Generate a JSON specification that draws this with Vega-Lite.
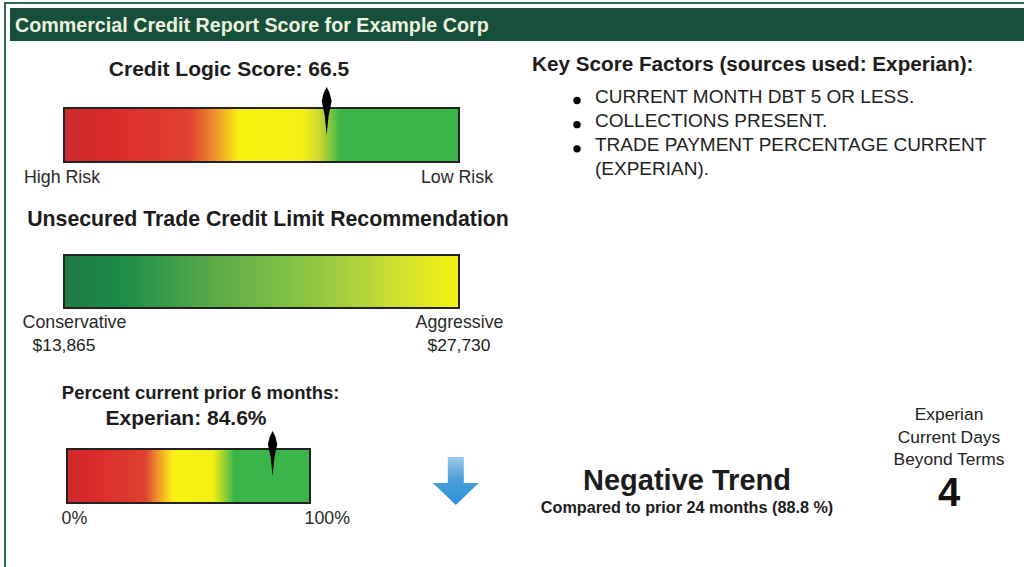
{
"$schema":"https://vega.github.io/schema/vega-lite/v6.json",
"padding":0,
"background":"white",
"spacing":0,
"config":{"view":{"stroke":null},"font":"Liberation Sans","title":{"font":"Liberation Sans","fontWeight":"bold","color":"#1c1c1c"},"text":{"font":"Liberation Sans","color":"#222222"},"axis":{"labelFont":"Liberation Sans","labelColor":"#2a2a2a"}},
"hconcat":[
{"width":10,"height":567,"data":{"values":[{"part":"frame"}]},
 "resolve":{"scale":{"x":"independent","y":"independent"}},
 "layer":[
  {"mark":{"type":"rect","color":"#2c6b52"},"encoding":{"x":{"datum":0,"type":"quantitative","axis":null,"scale":{"domain":[0,1],"range":[4,6]}},"x2":{"datum":1},"y":{"datum":0,"type":"quantitative","axis":null,"scale":{"domain":[0,1],"range":[567,2]}},"y2":{"datum":1}}},
  {"mark":{"type":"rect","color":"#2c6b52"},"encoding":{"x":{"datum":0,"type":"quantitative","axis":null,"scale":{"domain":[0,1],"range":[4,10]}},"x2":{"datum":1},"y":{"datum":0,"type":"quantitative","axis":null,"scale":{"domain":[0,1],"range":[4,2]}},"y2":{"datum":1}}}
 ]},
{"spacing":0,"vconcat":[
 {"width":1014,"height":42,"data":{"values":[{"heading":"Commercial Credit Report Score for Example Corp"}]},
  "resolve":{"scale":{"x":"independent","y":"independent"}},
  "layer":[
   {"mark":{"type":"rect","color":"#2c6b52"},"encoding":{"x":{"datum":0,"type":"quantitative","axis":null,"scale":{"domain":[0,1],"range":[0,1014]}},"x2":{"datum":1},"y":{"datum":0,"type":"quantitative","axis":null,"scale":{"domain":[0,1],"range":[4,2]}},"y2":{"datum":1}}},
   {"mark":{"type":"rect","color":"#16503c"},"encoding":{"x":{"datum":0,"type":"quantitative","axis":null,"scale":{"domain":[0,1],"range":[0,1014]}},"x2":{"datum":1},"y":{"datum":0,"type":"quantitative","axis":null,"scale":{"domain":[0,1],"range":[41,8]}},"y2":{"datum":1}}},
   {"mark":{"type":"text","align":"left","baseline":"middle","fontSize":19.7,"fontWeight":"bold","color":"#eef3df","dy":4.5},"encoding":{"x":{"datum":0,"type":"quantitative","axis":null,"scale":{"domain":[0,1],"range":[5,1014]}},"text":{"field":"heading"}}}
  ]},
 {"spacing":0,"hconcat":[
  {"bounds":"flush","spacing":0,"vconcat":[
   {"width":510,"height":66,"data":{"values":[]},"mark":"point"},
   {"width":510,"height":54,
    "title":{"text":"Credit Logic Score: 66.5","fontSize":21,"anchor":"middle","dx":-36,"offset":7},
    "resolve":{"axis":{"x":"independent"}},
    "layer":[
     {"data":{"values":[{"low":0,"high":100}]},
      "mark":{"type":"rect","stroke":"#222222","strokeWidth":2,"color":{"gradient":"linear","x1":0,"y1":0,"x2":1,"y2":0,"stops":[{"offset":0,"color":"#cc2b2e"},{"offset":0.1,"color":"#da2a2b"},{"offset":0.32,"color":"#e04030"},{"offset":0.38,"color":"#ef8f2e"},{"offset":0.445,"color":"#faf20f"},{"offset":0.605,"color":"#f5f014"},{"offset":0.65,"color":"#c4d633"},{"offset":0.7,"color":"#3bb54a"},{"offset":1,"color":"#3bb54a"}]}},
      "encoding":{"x":{"field":"low","type":"quantitative","title":null,"scale":{"domain":[0,100],"range":[54,449]},"axis":{"values":[0,100],"labelExpr":"datum.value < 50 ? 'High Risk' : 'Low Risk'","domain":false,"ticks":false,"grid":false,"labelFontSize":17.8,"labelPadding":6,"labelAlign":"center","labelOffset":-2.5,"labelBound":false,"labelFlush":false,"labelOverlap":false,"title":null}},"x2":{"field":"high"}}},
     {"data":{"values":[{"score":66.5}]},
      "mark":{"type":"point","filled":true,"opacity":1,"color":"#000000","size":4,"shape":"M0,0 L-2,-20 L-5,-34 L-3,-42 L0,-48 L3,-42 L5,-34 L2,-20 Z"},
      "encoding":{"x":{"field":"score","type":"quantitative","scale":{"domain":[0,100],"range":[54,449]},"axis":null}}}
    ]},
   {"width":510,"height":93,"data":{"values":[]},"mark":"point"},
   {"width":510,"height":53,
    "title":{"text":"Unsecured Trade Credit Limit Recommendation","fontSize":21.3,"anchor":"middle","dx":3,"offset":24},
    "resolve":{"axis":{"x":"independent"}},
    "layer":[
     {"data":{"values":[{"low":13865,"high":27730}]},
      "mark":{"type":"rect","stroke":"#222222","strokeWidth":2,"color":{"gradient":"linear","x1":0,"y1":0,"x2":1,"y2":0,"stops":[{"offset":0,"color":"#1f7a45"},{"offset":0.15,"color":"#1e8c48"},{"offset":0.38,"color":"#5aab4a"},{"offset":0.62,"color":"#8cc543"},{"offset":0.82,"color":"#c8dc33"},{"offset":1,"color":"#f7f00f"}]}},
      "encoding":{"x":{"field":"low","type":"quantitative","title":null,"scale":{"domain":[13865,27730],"zero":false,"range":[54,449]},"axis":{"values":[14216,27730],"labelExpr":"datum.value < 20000 ? 'Conservative' : 'Aggressive'","domain":false,"ticks":false,"grid":false,"labelFontSize":17.8,"labelPadding":5,"labelAlign":"center","labelBound":false,"labelFlush":false,"labelOverlap":false,"title":null}},"x2":{"field":"high"}}},
     {"data":{"values":[{"limit":13865,"label":"$13,865"},{"limit":27730,"label":"$27,730"}]},
      "mark":{"type":"text","fontSize":17.4,"dy":64.5},
      "encoding":{"x":{"field":"limit","type":"quantitative","scale":{"domain":[13865,27730],"zero":false,"range":[54,449]},"axis":null},"text":{"field":"label"}}}
    ]},
   {"width":510,"height":141,"data":{"values":[]},"mark":"point"},
   {"width":510,"height":54,
    "title":{"text":"Experian: 84.6%","fontSize":21,"anchor":"middle","dx":-79,"offset":-45},
    "resolve":{"axis":{"x":"independent"}},
    "layer":[
     {"data":{"values":[{"low":0,"high":100}]},
      "mark":{"type":"rect","stroke":"#222222","strokeWidth":2,"color":{"gradient":"linear","x1":0,"y1":0,"x2":1,"y2":0,"stops":[{"offset":0,"color":"#cc2b2e"},{"offset":0.1,"color":"#da2a2b"},{"offset":0.32,"color":"#e04030"},{"offset":0.37,"color":"#ef8f2e"},{"offset":0.436,"color":"#faf20f"},{"offset":0.6,"color":"#f5f014"},{"offset":0.69,"color":"#3bb54a"},{"offset":1,"color":"#3bb54a"}]}},
      "encoding":{"x":{"field":"low","type":"quantitative","title":null,"scale":{"domain":[0,100],"range":[57,300]},"axis":{"values":[0,100],"labelExpr":"datum.value < 50 ? '0%' : '100%'","domain":false,"ticks":false,"grid":false,"labelFontSize":17.8,"labelPadding":6,"labelAlign":"left","labelOffset":-6,"labelBound":false,"labelFlush":false,"labelOverlap":false,"title":null}},"x2":{"field":"high"}}},
     {"data":{"values":[{"pct":84.6}]},
      "mark":{"type":"point","filled":true,"opacity":1,"color":"#000000","size":3.5,"shape":"M0,0 L-2,-20 L-5,-34 L-3,-42 L0,-48 L3,-42 L5,-34 L2,-20 Z"},
      "encoding":{"x":{"field":"pct","type":"quantitative","scale":{"domain":[0,100],"range":[57,300]},"axis":null}}},
     {"data":{"values":[{"label":"Percent current prior 6 months:"}]},
      "mark":{"type":"text","fontSize":18.5,"fontWeight":"bold","color":"#1c1c1c","dy":-83},
      "encoding":{"x":{"datum":55,"type":"quantitative","scale":{"domain":[0,100],"range":[57,300]},"axis":null},"text":{"field":"label"}}},
     {"data":{"values":[{"trend":"down"}]},
      "mark":{"type":"point","filled":true,"opacity":1,"size":4,"shape":"M-8,-19 L8,-19 L8,7 L23,7 L0,29 L-23,7 L-8,7 Z","color":{"gradient":"linear","x1":0,"y1":0,"x2":0,"y2":1,"stops":[{"offset":0,"color":"#9ccbec"},{"offset":0.45,"color":"#4f9fd8"},{"offset":1,"color":"#2a93dc"}]}},
      "encoding":{"x":{"datum":160,"type":"quantitative","scale":{"domain":[0,100],"range":[57,300]},"axis":null}}}
    ]}
  ]},
  {"bounds":"flush","spacing":0,"vconcat":[
   {"width":504,"height":42,"data":{"values":[]},"mark":"point"},
   {"width":504,"height":96,
    "title":{"text":"Key Score Factors (sources used: Experian):","fontSize":20.7,"anchor":"start","dx":12,"offset":8},
    "data":{"values":[{"line":1,"text":"CURRENT MONTH DBT 5 OR LESS.","bullet":true},{"line":2,"text":"COLLECTIONS PRESENT.","bullet":true},{"line":3,"text":"TRADE PAYMENT PERCENTAGE CURRENT","bullet":true},{"line":4,"text":"(EXPERIAN).","bullet":false}]},
    "layer":[
     {"transform":[{"filter":"datum.bullet"}],
      "mark":{"type":"point","shape":"circle","filled":true,"opacity":1,"color":"#000000","size":55,"yOffset":4},
      "encoding":{"x":{"datum":0,"type":"quantitative","axis":null,"scale":{"domain":[0,1],"range":[57,75]}},"y":{"field":"line","type":"quantitative","axis":null,"scale":{"domain":[1,4],"range":[12.5,85]}}}},
     {"mark":{"type":"text","align":"left","baseline":"middle","fontSize":19},
      "encoding":{"x":{"datum":1,"type":"quantitative","axis":null,"scale":{"domain":[0,1],"range":[57,75]}},"y":{"field":"line","type":"quantitative","axis":null,"scale":{"domain":[1,4],"range":[12.5,85]}},"text":{"field":"text"}}}
    ]},
   {"width":504,"height":224,"data":{"values":[]},"mark":"point"},
   {"width":504,"height":112,
    "title":{"text":"Negative Trend","subtitle":"Compared to prior 24 months (88.8 %)","fontSize":29,"subtitleFont":"Liberation Sans","subtitleFontWeight":"bold","subtitleFontSize":16.2,"subtitleColor":"#1c1c1c","subtitlePadding":4,"anchor":"middle","dx":-85,"offset":-112},
    "layer":[
     {"data":{"values":[{"line":1,"text":"Experian"},{"line":2,"text":"Current Days"},{"line":3,"text":"Beyond Terms"}]},
      "mark":{"type":"text","fontSize":17.4,"baseline":"middle"},
      "encoding":{"x":{"datum":1,"type":"quantitative","axis":null,"scale":{"domain":[0,1],"range":[167,429]}},"y":{"field":"line","type":"quantitative","axis":null,"scale":{"domain":[1,5],"range":[11,101]}},"text":{"field":"text"}}},
     {"data":{"values":[{"days":4}]},
      "mark":{"type":"text","fontSize":40,"fontWeight":"bold","baseline":"middle","color":"#111111"},
      "encoding":{"x":{"datum":1,"type":"quantitative","axis":null,"scale":{"domain":[0,1],"range":[167,429]}},"y":{"datum":4.5,"type":"quantitative","axis":null,"scale":{"domain":[1,5],"range":[11,101]}},"text":{"field":"days","type":"quantitative"}}}
    ]}
  ]}
 ]}
]}
]}
